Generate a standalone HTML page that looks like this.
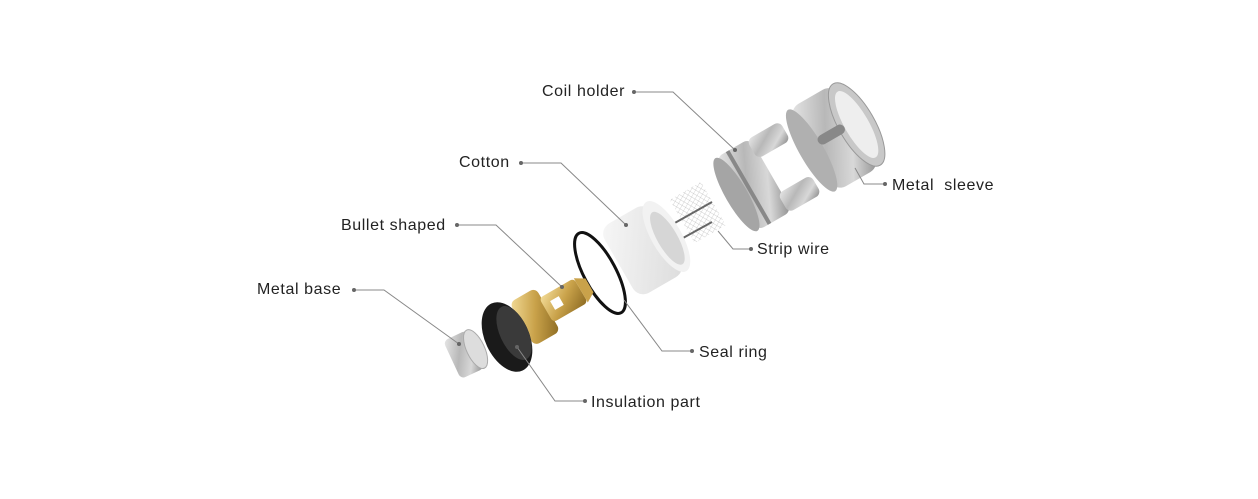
<!DOCTYPE html>
<html><head><meta charset="utf-8"><style>
html,body{margin:0;padding:0;background:#fff;}
svg{display:block;}
text{font-family:"Liberation Sans",sans-serif;font-size:16px;fill:#222;letter-spacing:0.6px;}
</style></head><body>
<svg width="1258" height="499" viewBox="0 0 1258 499" xmlns="http://www.w3.org/2000/svg">
<defs>
<linearGradient id="metal" x1="0" y1="0" x2="1" y2="1">
<stop offset="0" stop-color="#e8e8e8"/><stop offset="0.4" stop-color="#b8b8b8"/><stop offset="0.7" stop-color="#d8d8d8"/><stop offset="1" stop-color="#8a8a8a"/></linearGradient>
<linearGradient id="brass" x1="0" y1="0" x2="1" y2="1">
<stop offset="0" stop-color="#f3dc98"/><stop offset="0.5" stop-color="#c9a24a"/><stop offset="1" stop-color="#8d6b22"/></linearGradient>
<linearGradient id="cot" x1="0" y1="0" x2="1" y2="1">
<stop offset="0" stop-color="#f7f7f7"/><stop offset="1" stop-color="#dcdcdc"/></linearGradient>
<pattern id="mesh" width="4" height="4" patternUnits="userSpaceOnUse" patternTransform="rotate(-30)">
<path d="M0 0H4M0 0V4" stroke="#9a9a9a" stroke-width="0.6"/></pattern>
</defs>

<!-- Metal sleeve -->
<g transform="rotate(-30 835 137)">
<rect x="808" y="90" width="52" height="95" rx="12" fill="url(#metal)"/>
<ellipse cx="808" cy="137" rx="12" ry="47" fill="#b0b0b0"/>
<ellipse cx="860" cy="137" rx="18" ry="47" fill="#c8c8c8" stroke="#999"/>
<ellipse cx="860" cy="137" rx="12" ry="38" fill="#eee"/>
<rect x="818" y="128" width="30" height="10" rx="5" fill="#888"/>
</g>
<!-- Coil holder -->
<g transform="rotate(-30 765 178)">
<rect x="732" y="136" width="40" height="84" rx="8" fill="url(#metal)"/>
<rect x="768" y="136" width="38" height="22" rx="6" fill="url(#metal)"/>
<rect x="768" y="198" width="38" height="22" rx="6" fill="url(#metal)"/>
<ellipse cx="732" cy="178" rx="11" ry="42" fill="#a5a5a5"/>
<rect x="744" y="136" width="4" height="84" fill="#888"/>
</g>
<!-- mesh strip -->
<g transform="rotate(-30 697 213)">
<rect x="680" y="188" width="36" height="50" fill="url(#mesh)" opacity="0.8"/>
</g>
<line x1="673" y1="224" x2="712" y2="202" stroke="#666" stroke-width="2"/>
<line x1="683" y1="238" x2="712" y2="222" stroke="#666" stroke-width="2"/>
<!-- Cotton -->
<g transform="rotate(-30 643 250)">
<rect x="615" y="210" width="55" height="80" rx="12" fill="url(#cot)"/>
<ellipse cx="670" cy="250" rx="15" ry="40" fill="#f2f2f2"/>
<ellipse cx="670" cy="252" rx="10" ry="30" fill="#d6d6d6"/>
</g>
<!-- Seal ring -->
<ellipse cx="600" cy="273" rx="16" ry="45" transform="rotate(-28 600 273)" fill="none" stroke="#111" stroke-width="3"/>
<!-- Bullet -->
<g transform="rotate(-30 550 307)">
<rect x="517" y="283" width="30" height="50" rx="6" fill="url(#brass)"/>
<rect x="545" y="294" width="40" height="28" rx="4" fill="url(#brass)"/>
<rect x="553" y="302" width="10" height="10" fill="#fff"/>
<path d="M585 294 L595 300 L595 316 L585 322Z" fill="#c9a24a"/>
</g>
<!-- Insulation -->
<ellipse cx="507" cy="337" rx="22" ry="37" transform="rotate(-25 507 337)" fill="#1a1a1a"/>
<ellipse cx="514" cy="333" rx="14" ry="29" transform="rotate(-25 514 333)" fill="#3a3a3a"/>
<!-- Metal base -->
<g transform="rotate(-25 467 352)">
<rect x="450" y="332" width="26" height="42" rx="5" fill="url(#metal)"/>
<ellipse cx="476" cy="353" rx="9" ry="21" fill="#ddd" stroke="#aaa"/>
</g>

<!-- leaders -->
<g stroke="#888" stroke-width="1" fill="none">
<polyline points="634,92 673,92 735,150"/>
<polyline points="521,163 561,163 626,225"/>
<polyline points="457,225 496,225 562,287"/>
<polyline points="354,290 384,290 459,344"/>
<polyline points="585,401 555,401 517,347"/>
<polyline points="692,351 662,351 624,300"/>
<polyline points="751,249 733,249 718,231"/>
<polyline points="885,184 864,184 855,168"/>
</g>
<g fill="#666">
<circle cx="634" cy="92" r="2"/><circle cx="521" cy="163" r="2"/><circle cx="457" cy="225" r="2"/>
<circle cx="354" cy="290" r="2"/><circle cx="585" cy="401" r="2"/><circle cx="692" cy="351" r="2"/>
<circle cx="751" cy="249" r="2"/><circle cx="885" cy="184" r="2"/>
<circle cx="626" cy="225" r="2"/><circle cx="562" cy="287" r="2"/><circle cx="459" cy="344" r="2"/>
<circle cx="517" cy="347" r="2"/><circle cx="735" cy="150" r="2"/>
</g>
<text x="542" y="96">Coil holder</text>
<text x="459" y="167">Cotton</text>
<text x="341" y="230">Bullet shaped</text>
<text x="257" y="294">Metal base</text>
<text x="591" y="407">Insulation part</text>
<text x="699" y="357">Seal ring</text>
<text x="757" y="254">Strip wire</text>
<text x="892" y="190" xml:space="preserve">Metal  sleeve</text>
</svg>
</body></html>
